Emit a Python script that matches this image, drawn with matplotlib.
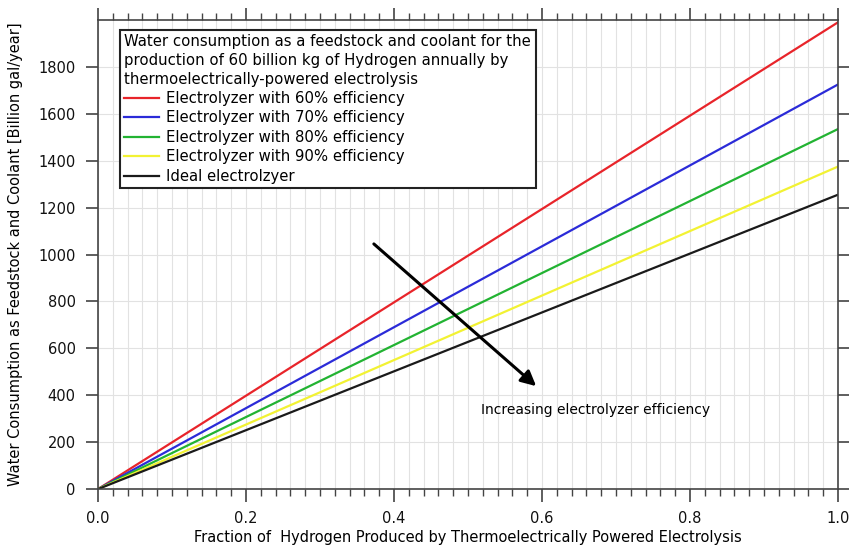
import matplotlib.pyplot as plt
from matplotlib.ticker import MultipleLocator, FormatStrFormatter

# fraction of hydrogen produced, end points of the straight lines
frac = [0.0, 1.0]
eff60 = [0, 1990]
eff70 = [0, 1725]
eff80 = [0, 1535]
eff90 = [0, 1375]
ideal = [0, 1255]

labels = ["Electrolyzer with 60% efficiency",
          "Electrolyzer with 70% efficiency",
          "Electrolyzer with 80% efficiency",
          "Electrolyzer with 90% efficiency",
          "Ideal electrolzyer"]
colors = ["#e8242a", "#2b2bd8", "#22b332", "#f2f233", "#1a1a1a"]

fig = plt.figure(figsize=(8.49, 5.52), dpi=100)
ax = fig.add_axes([0.1154, 0.114, 0.8716, 0.8498])

for ys, lab, c in zip([eff60, eff70, eff80, eff90, ideal], labels, colors):
    ax.plot(frac, ys, color=c, lw=1.6, label=lab)

ax.set_xlim(0, 1.0)
ax.set_ylim(0, 2000)
ax.xaxis.set_major_locator(MultipleLocator(0.2))
ax.xaxis.set_major_formatter(FormatStrFormatter("%.1f"))
ax.xaxis.set_minor_locator(MultipleLocator(0.02))
ax.set_yticks(range(0, 1801, 200))
ax.xaxis.set_ticks_position("both")
ax.yaxis.set_ticks_position("both")

ax.grid(which="both", axis="x", color="#e2e2e2", lw=0.8)
ax.grid(which="major", axis="y", color="#e2e2e2", lw=0.8)
ax.set_axisbelow(True)

ax.tick_params(axis="both", which="major", direction="out", length=9, width=1.1,
               pad=7, labelsize=10.5, color="#333333", labelcolor="#111111")
ax.tick_params(axis="x", which="minor", direction="out", length=5, width=1.0,
               color="#444444")
for sp in ax.spines.values():
    sp.set_color("#444444")
    sp.set_linewidth(1.2)

ax.set_xlabel("Fraction of  Hydrogen Produced by Thermoelectrically Powered Electrolysis",
              fontsize=10.5, labelpad=3)
ax.set_ylabel("Water Consumption as Feedstock and Coolant [Billion gal/year]",
              fontsize=10.5, labelpad=11)

leg = ax.legend(title="Water consumption as a feedstock and coolant for the\n"
                      "production of 60 billion kg of Hydrogen annually by\n"
                      "thermoelectrically-powered electrolysis",
                loc="upper left", bbox_to_anchor=(0.0297, 0.979), borderaxespad=0,
                fontsize=10.75, title_fontsize=10.75, alignment="left",
                handlelength=2.3, handletextpad=0.5, labelspacing=0.3,
                borderpad=0.3, fancybox=False, framealpha=1, edgecolor="#222222")
leg.get_title().set_linespacing(1.3)
leg.get_frame().set_linewidth(1.5)

ax.annotate("", xy=(0.595, 431), xytext=(0.37, 1053),
            arrowprops=dict(arrowstyle="-|>,head_length=0.9,head_width=0.45",
                            color="black", lw=2.2))
ax.text(0.673, 337, "Increasing electrolyzer efficiency", ha="center", va="center",
        fontsize=10)

fig.savefig("out.png", dpi=100)
